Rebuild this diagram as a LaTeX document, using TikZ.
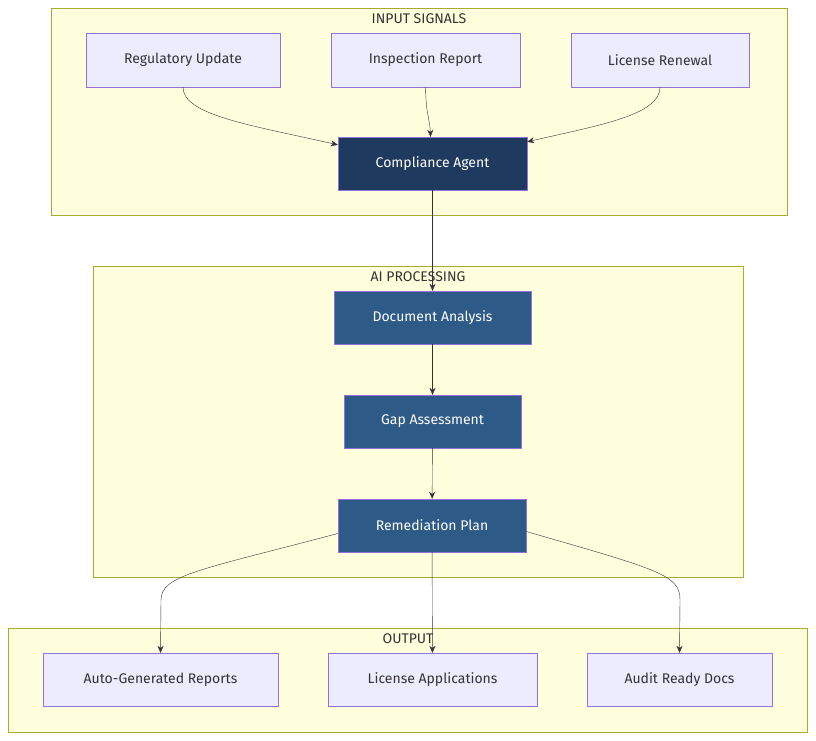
\documentclass[tikz,border=0pt]{standalone}
\usepackage{fontspec}
\setmainfont{Fira Sans}
\usetikzlibrary{arrows.meta}
\definecolor{clfill}{HTML}{FFFFDE}
\definecolor{clline}{HTML}{AAAA33}
\definecolor{ndfill}{HTML}{ECECFF}
\definecolor{ndline}{HTML}{9370DB}
\definecolor{agentfill}{HTML}{1E3A5F}
\definecolor{procfill}{HTML}{2D5A87}
\definecolor{edge}{HTML}{333333}
\begin{document}
\begin{tikzpicture}[x=1pt,y=-1pt,
                        cluster/.style={draw=clline,fill=clfill},
                        title/.style={font=\fontsize{14}{16}\selectfont,text=edge},
                        box/.style={shape=rectangle,draw=ndline,fill=ndfill,text=edge,font=\fontsize{14}{16}\selectfont,inner sep=0pt},
                        dark/.style={box,fill=agentfill,text=white},
                        proc/.style={box,fill=procfill,text=white},
                        link/.style={draw=edge,-{Stealth[length=7pt,width=6pt]}}
                        ]
                        \useasboundingbox (0,0) rectangle (816,740);
                        %Input signals
                        \draw [cluster] (51,8) rectangle (787,215);
                        \node [title] at (419,19) {INPUT SIGNALS};
                        \node [box,minimum width=194pt,minimum height=54pt] (reg) at (183,60) {Regulatory Update};
                        \node [box,minimum width=189pt,minimum height=54pt] (insp) at (425.5,60) {Inspection Report};
                        \node [box,minimum width=178pt,minimum height=54pt] (lic) at (660,60) {License Renewal};
                        \node [dark,minimum width=189pt,minimum height=53pt] (agent) at (432.5,163.5) {Compliance Agent};
                        %AI processing
                        \draw [cluster] (93,266) rectangle (743,577);
                        \node [title] at (418,277) {AI PROCESSING};
                        \node [proc,minimum width=197pt,minimum height=53pt] (doc) at (432.5,317.5) {Document Analysis};
                        \node [proc,minimum width=177pt,minimum height=53pt] (gap) at (432.5,421.5) {Gap Assessment};
                        \node [proc,minimum width=188pt,minimum height=53pt] (plan) at (432,525.5) {Remediation Plan};
                        %Output
                        \draw [cluster] (8,628) rectangle (807,732);
                        \node [title] at (408,639) {OUTPUT};
                        \node [box,minimum width=235pt,minimum height=53pt] (auto) at (160.5,679.5) {Auto-Generated Reports};
                        \node [box,minimum width=209pt,minimum height=53pt] (apps) at (432.5,679.5) {License Applications};
                        \node [box,minimum width=185pt,minimum height=53pt] (audit) at (679.5,679.5) {Audit Ready Docs};
                        %Connectors
                        \draw [link] (reg.south) .. controls (183,115) and (250,125) .. ([yshift=-8pt]agent.north west);
                        \draw [link] (insp.south) .. controls (426,115) and (430,120) .. ([xshift=-2pt]agent.north);
                        \draw [link] (lic.south) .. controls (660,115) and (600,125) .. ([yshift=-5pt]agent.north east);
                        \draw [link] (agent) -- (doc);
                        \draw [link] (doc) -- (gap);
                        \draw [link] (gap) -- (plan);
                        \draw [link] ([yshift=-8pt]plan.west) .. controls (200,570) and (161,575) .. (161,600) -- (auto.north);
                        \draw [link] (plan) -- (apps);
                        \draw [link] ([yshift=-6pt]plan.east) .. controls (660,570) and (680,575) .. (680,600) -- (audit.north);
                \end{tikzpicture}
\end{document}
